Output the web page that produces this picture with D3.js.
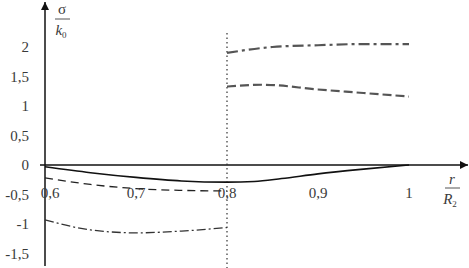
<!DOCTYPE html>
<html>
<head>
<meta charset="utf-8">
<script src="https://cdn.jsdelivr.net/npm/d3@7"></script>
<style>
  body { margin: 0; background: #fff; }
</style>
</head>
<body>
<svg id="chart"></svg>
<script>
let width = 469,
    height = 268;

// tick values (labels use comma decimals)
let xTicks = [0.6, 0.7, 0.8, 0.9, 1];
let yTicks = [-1.5, -1, -0.5, 0, 0.5, 1, 1.5, 2];

// curves
let solidX = [0.6, 0.65, 0.7, 0.75, 0.8, 0.83, 0.86, 0.9, 0.95, 1.0];
let solidY = [-0.03, -0.13, -0.21, -0.27, -0.29, -0.28, -0.23, -0.15, -0.07, 0];

let dashLowX = [0.6, 0.65, 0.7, 0.75, 0.8];
let dashLowY = [-0.22, -0.33, -0.40, -0.43, -0.44];

let dotDashLowX = [0.6, 0.65, 0.7, 0.75, 0.8];
let dotDashLowY = [-0.93, -1.1, -1.15, -1.12, -1.06];

let dashHighX = [0.8, 0.84, 0.9, 0.95, 1.0];
let dashHighY = [1.33, 1.36, 1.28, 1.22, 1.16];

let dotDashHighX = [0.8, 0.85, 0.9, 0.95, 1.0];
let dotDashHighY = [1.9, 2.0, 2.03, 2.05, 2.05];

let FONT = "'Liberation Serif', 'DejaVu Serif', serif";

let x = d3.scaleLinear().domain([0.6, 1]).range([45, 409]);
let y = d3.scaleLinear().domain([-1.5, 2]).range([253.5, 47]);

let fmt = function(d) { return String(d).replace('.', ','); };

let svg = d3.select('#chart')
    .attr('width', width)
    .attr('height', height)
    .style('font-family', FONT);

let defs = svg.append('defs');
defs.append('marker')
    .attr('id', 'arrow')
    .attr('viewBox', '0 0 10 10')
    .attr('refX', 10)
    .attr('refY', 5)
    .attr('markerWidth', 10)
    .attr('markerHeight', 8)
    .attr('markerUnits', 'userSpaceOnUse')
    .attr('orient', 'auto')
    .append('path')
    .attr('d', 'M0,0L10,5L0,10Z')
    .style('fill', '#111');

// axes
svg.append('line')
    .attr('x1', 40).attr('x2', 468)
    .attr('y1', y(0)).attr('y2', y(0))
    .style('stroke', '#111').style('stroke-width', 1.5)
    .attr('marker-end', 'url(#arrow)');

svg.append('line')
    .attr('x1', x(0.6)).attr('x2', x(0.6))
    .attr('y1', 266).attr('y2', 2)
    .style('stroke', '#111').style('stroke-width', 1.5)
    .attr('marker-end', 'url(#arrow)');

// dotted vertical at 0.8
svg.append('line')
    .attr('x1', x(0.8)).attr('x2', x(0.8))
    .attr('y1', 33).attr('y2', 268)
    .style('stroke', '#333').style('stroke-width', 1.2)
    .style('stroke-dasharray', '1.5,3');

// tick labels
svg.selectAll('.ylab')
    .data(yTicks)
    .enter()
    .append('text')
    .attr('class', 'ylab')
    .attr('x', 29)
    .attr('y', function(d) { return y(d); })
    .attr('dy', '.35em')
    .attr('text-anchor', 'end')
    .style('font-family', FONT)
    .style('fill', '#3a3a3a')
    .style('font-size', '15px')
    .text(fmt);

svg.selectAll('.xlab')
    .data(xTicks)
    .enter()
    .append('text')
    .attr('class', 'xlab')
    .attr('x', function(d, i) { return x(d) + (i === 0 ? 5 : 0); })
    .attr('y', 193)
    .attr('dy', '.35em')
    .attr('text-anchor', 'middle')
    .style('font-family', FONT)
    .style('fill', '#3a3a3a')
    .style('font-size', '15px')
    .text(fmt);

// axis titles as fractions
let yt = svg.append('g').style('fill', '#3a3a3a');
yt.append('text').attr('x', 62).attr('y', 14).attr('text-anchor', 'middle')
    .style('font-size', '15px').text('σ');
yt.append('line').attr('x1', 55).attr('x2', 70).attr('y1', 19).attr('y2', 19)
    .style('stroke', '#555').style('stroke-width', 1);
yt.append('text').attr('x', 61).attr('y', 35).attr('text-anchor', 'middle')
    .style('font-size', '15px').style('font-style', 'italic')
    .text('k').append('tspan').attr('dy', 3).style('font-size', '9px').style('font-style', 'normal').text('0');

let xt = svg.append('g').style('fill', '#3a3a3a');
xt.append('text').attr('x', 452).attr('y', 184).attr('text-anchor', 'middle')
    .style('font-size', '15px').style('font-style', 'italic').text('r');
xt.append('line').attr('x1', 445).attr('x2', 460).attr('y1', 188).attr('y2', 188)
    .style('stroke', '#555').style('stroke-width', 1);
xt.append('text').attr('x', 450).attr('y', 204).attr('text-anchor', 'middle')
    .style('font-size', '15px').style('font-style', 'italic')
    .text('R').append('tspan').attr('dy', 3).style('font-size', '9px').style('font-style', 'normal').text('2');

// curves
let line = d3.line()
    .x(function(d) { return x(d[0]); })
    .y(function(d) { return y(d[1]); })
    .curve(d3.curveMonotoneX);

let series = [
    { xs: solidX, ys: solidY, color: '#111', w: 1.6, dash: null },
    { xs: dashLowX, ys: dashLowY, color: '#222', w: 1.3, dash: '8,5' },
    { xs: dotDashLowX, ys: dotDashLowY, color: '#333', w: 1.3, dash: '9,3,2,3' },
    { xs: dashHighX, ys: dashHighY, color: '#555', w: 2.2, dash: '9,4' },
    { xs: dotDashHighX, ys: dotDashHighY, color: '#555', w: 2.2, dash: '11,4,3,4' }
];

svg.selectAll('.curve')
    .data(series)
    .enter()
    .append('path')
    .attr('class', 'curve')
    .attr('d', function(s) { return line(d3.zip(s.xs, s.ys)); })
    .style('fill', 'none')
    .style('stroke', function(s) { return s.color; })
    .style('stroke-width', function(s) { return s.w; })
    .style('stroke-dasharray', function(s) { return s.dash; });
</script>
</body>
</html>
